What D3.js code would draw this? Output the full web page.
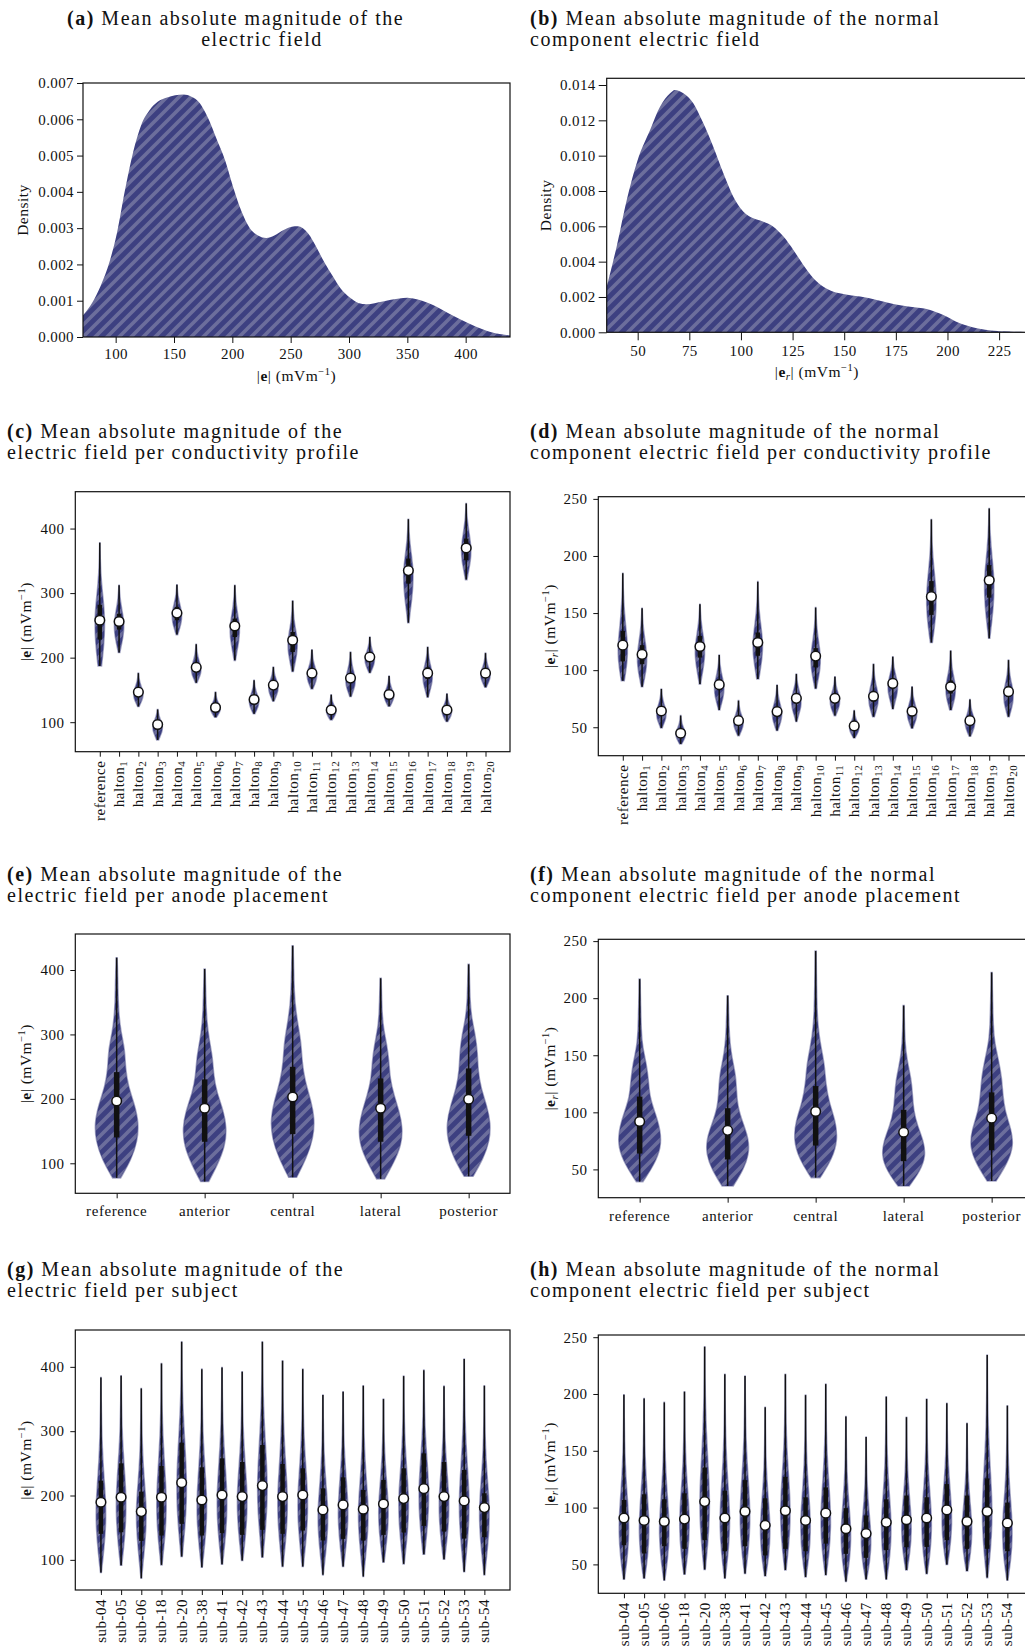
<!DOCTYPE html>
<html>
<head>
<meta charset="utf-8">
<script src="https://cdn.jsdelivr.net/npm/d3@7"></script>
<style>
body{margin:0;background:#fff;}
svg text{font-family:"Liberation Serif","Times New Roman",serif;fill:#111;}
</style>
</head>
<body>
<div id="chart"></div>
<script>
// ---------- data ----------
// (a) density of |e|
var eValues=[72,80,87,95,101,108,115,122,129,136,144,151,158,165,172,179,186,194,201,208,215,222,229,236,244,251,256,265,272,279,286,293,301,308,315,329,343,350,358,372,386,401,415,429,438];
var eDensity=[0.00060,0.00095,0.00140,0.00210,0.00285,0.00405,0.00510,0.00585,0.00625,0.00648,0.00660,0.00666,0.00668,0.00662,0.00645,0.00605,0.00550,0.00485,0.00410,0.00345,0.00300,0.00280,0.00273,0.00280,0.00295,0.00304,0.00305,0.00285,0.00248,0.00205,0.00168,0.00133,0.00108,0.00094,0.00090,0.00098,0.00106,0.00108,0.00104,0.00088,0.00064,0.00040,0.00021,0.00008,0.00004];
var eTicksX=[100,150,200,250,300,350,400];
var eTicksY=[0,0.001,0.002,0.003,0.004,0.005,0.006,0.007];

// (b) density of |e_r|
var erValues=[35,39.8,44.7,50,56,60.8,65.7,68,72.1,77,81.8,86.6,91.5,96.3,101.2,106,110.9,115.7,120.6,125.4,130.2,135.1,139.9,144.8,149.6,157.7,165.8,173.8,181.9,190,198,206,214.2,222.3,230.3,238.5];
var erDensity=[0.00258,0.00485,0.00749,0.00975,0.01145,0.01277,0.01353,0.01372,0.01353,0.01296,0.01183,0.0105,0.009,0.00768,0.00683,0.00645,0.00626,0.00598,0.00542,0.00466,0.00381,0.00306,0.00258,0.0023,0.00217,0.00202,0.00183,0.0016,0.00145,0.00132,0.00098,0.00051,0.00023,0.00009,0.00004,0.00002];
var erTicksX=[50,75,100,125,150,175,200,225];
var erTicksY=[0,0.002,0.004,0.006,0.008,0.010,0.012,0.014];

var eViolinTicks=[100,200,300,400];
var erViolinTicks=[50,100,150,200,250];

// (c) / (d) conductivity profiles
var profiles=['reference','halton1','halton2','halton3','halton4','halton5','halton6','halton7','halton8','halton9','halton10','halton11','halton12','halton13','halton14','halton15','halton16','halton17','halton18','halton19','halton20'];
var cMin=[187,208,124.4,72.6,235.7,161,107.8,195.8,113,132.6,178.7,151.7,103.6,139.8,176.6,124.8,254.2,138.8,101,320.9,154.3];
var cQ1=[228,243.5,141,91,258,179,118.5,232,130,152,208.7,170,114.5,162,195,138,314.7,167,114,350.9,171];
var cMed=[258,256,146.6,96.4,269,185,122.8,249,135.2,157.5,226.9,176,119,168.3,200.9,142.9,334.9,176,119,370,176];
var cQ3=[282,268,152,101,278.6,191,127,260.5,141,163,239.7,183,124,176,207,148,353.5,185,124,384.5,182];
var cMax=[378,312,176,119.7,313,220.6,146.6,312,164.8,185.4,288,212.3,142.4,208.6,232,171.4,414.5,216.4,144,438.8,207];
var cShape=[
[0.35,0.7,0.95,1.0,0.8,0.45,0.2,0.08,0.02],[0.15,0.5,0.85,1.0,0.9,0.6,0.3,0.12,0.03],[0.15,0.55,0.9,1.0,0.85,0.5,0.25,0.1,0.03],
[0.2,0.5,0.85,1.0,0.95,0.65,0.35,0.15,0.05],[0.15,0.55,0.9,1.0,0.85,0.55,0.25,0.1,0.03],[0.15,0.55,0.95,1.0,0.75,0.45,0.22,0.1,0.03],
[0.2,0.6,0.95,1.0,0.75,0.45,0.22,0.1,0.03],[0.12,0.45,0.8,1.0,0.9,0.55,0.28,0.12,0.03],[0.15,0.55,0.9,1.0,0.85,0.5,0.25,0.1,0.03],
[0.12,0.5,0.85,1.0,0.92,0.6,0.3,0.12,0.03],[0.15,0.5,0.85,1.0,0.85,0.5,0.25,0.1,0.03],[0.18,0.6,0.95,1.0,0.78,0.45,0.22,0.1,0.03],
[0.2,0.6,0.95,1.0,0.78,0.45,0.22,0.1,0.03],[0.15,0.55,0.92,1.0,0.8,0.48,0.24,0.1,0.03],[0.15,0.55,0.9,1.0,0.85,0.5,0.25,0.1,0.03],
[0.2,0.6,0.95,1.0,0.75,0.45,0.22,0.1,0.03],[0.12,0.4,0.75,0.95,1.0,0.7,0.35,0.12,0.03],[0.12,0.45,0.8,1.0,0.92,0.6,0.3,0.12,0.03],
[0.18,0.58,0.92,1.0,0.82,0.5,0.25,0.1,0.03],[0.15,0.5,0.88,1.0,0.85,0.55,0.28,0.1,0.03],[0.15,0.55,0.92,1.0,0.8,0.48,0.24,0.1,0.03]];

var dMin=[90.8,85.5,49.4,35.4,87.8,65.1,42.7,92.2,47.1,55,84,60.2,40.7,59.3,66,49.1,124.2,65.1,42.1,128,59.3];
var dQ1=[107.6,105.3,60.5,42,111,82.5,52.5,112.6,60,71,102.4,71.5,48.5,72.5,84,60.5,148.4,79.5,52.5,163.5,76.5];
var dMed=[121.9,113.8,64.3,44.8,120.7,87.3,55.8,124.2,63.7,75.3,112.3,75.3,51.2,77.1,88.4,64,164.4,85.5,55.8,178.7,81.2];
var dQ3=[134.4,121.9,68,47.5,130,92,59,133,67.5,79.5,119.3,79,53.5,81.5,93,67.5,178,91,59,192,86];
var dMax=[184.8,154.2,83.5,60.2,157.7,113.2,73.3,177.5,87,96.6,154.8,94.2,64.6,105.3,111.7,85.5,232,117,74.2,241.6,108.8];
var dShape=[
[0.3,0.75,1.0,0.9,0.6,0.35,0.18,0.07,0.02],[0.15,0.55,0.9,1.0,0.8,0.5,0.25,0.1,0.03],[0.15,0.55,0.9,1.0,0.85,0.5,0.25,0.1,0.03],
[0.2,0.6,0.95,1.0,0.75,0.45,0.22,0.1,0.03],[0.12,0.45,0.8,1.0,0.92,0.6,0.3,0.12,0.03],[0.12,0.48,0.85,1.0,0.9,0.55,0.28,0.1,0.03],
[0.15,0.55,0.9,1.0,0.85,0.5,0.25,0.1,0.03],[0.2,0.6,0.95,1.0,0.75,0.42,0.2,0.08,0.02],[0.15,0.55,0.9,1.0,0.82,0.5,0.25,0.1,0.03],
[0.1,0.42,0.8,1.0,0.95,0.65,0.32,0.12,0.03],[0.15,0.55,0.92,1.0,0.8,0.48,0.24,0.1,0.03],[0.15,0.55,0.9,1.0,0.85,0.5,0.25,0.1,0.03],
[0.15,0.55,0.9,1.0,0.85,0.5,0.25,0.1,0.03],[0.18,0.6,0.95,1.0,0.78,0.45,0.22,0.1,0.03],[0.1,0.42,0.8,1.0,0.95,0.65,0.32,0.12,0.03],
[0.15,0.55,0.92,1.0,0.8,0.48,0.24,0.1,0.03],[0.2,0.62,0.95,1.0,0.78,0.45,0.2,0.08,0.02],[0.18,0.6,0.95,1.0,0.78,0.45,0.22,0.1,0.03],
[0.15,0.55,0.9,1.0,0.85,0.5,0.25,0.1,0.03],[0.12,0.5,0.85,1.0,0.9,0.55,0.28,0.1,0.03],[0.15,0.55,0.9,1.0,0.85,0.5,0.25,0.1,0.03]];

// (e) / (f) anode placements
var placements=['reference','anterior','central','lateral','posterior'];
var ePMin=[77.4,71.7,78.4,75.8,79.9];
var ePQ1=[140.1,133.4,145.3,133.4,142.7];
var ePMed=[196.7,185.4,202.9,185.4,199.3];
var ePQ3=[241.5,230.2,249.7,231.7,247.2];
var ePMax=[419,401.5,437.6,387.1,408.7];
var ePShape=[
[0.18,0.66,0.94,1.0,0.81,0.52,0.39,0.37,0.18,0.09,0.06,0.045,0.02],
[0.18,0.6,0.92,1.0,0.85,0.55,0.4,0.36,0.2,0.1,0.06,0.04,0.02],
[0.18,0.62,0.93,1.0,0.82,0.55,0.42,0.38,0.22,0.1,0.06,0.04,0.02],
[0.18,0.6,0.93,1.0,0.85,0.6,0.42,0.38,0.28,0.12,0.06,0.04,0.02],
[0.2,0.66,0.95,1.0,0.82,0.55,0.42,0.4,0.3,0.12,0.06,0.04,0.02]];
var fPMin=[39.3,35.5,42.8,35.5,39.9];
var fPQ1=[63.9,58.7,70.9,57.2,66.8];
var fPMed=[92,84.2,100.7,82.5,94.9];
var fPQ3=[113.8,103.6,123,102.2,117.5];
var fPMax=[216.7,202.2,241.3,193.5,222.5];
var fPShape=[
[0.15,0.65,0.97,0.95,0.72,0.45,0.4,0.3,0.12,0.07,0.05,0.03,0.02],
[0.25,0.7,0.97,0.95,0.68,0.45,0.4,0.36,0.2,0.1,0.06,0.04,0.02],
[0.2,0.75,1.0,0.9,0.6,0.45,0.4,0.22,0.1,0.06,0.04,0.03,0.02],
[0.25,0.75,1.0,0.9,0.62,0.45,0.4,0.35,0.2,0.09,0.05,0.03,0.02],
[0.2,0.7,1.0,0.88,0.6,0.5,0.45,0.3,0.12,0.07,0.05,0.03,0.02]];

// (g) / (h) subjects
var subjects=['sub-04','sub-05','sub-06','sub-18','sub-20','sub-38','sub-41','sub-42','sub-43','sub-44','sub-45','sub-46','sub-47','sub-48','sub-49','sub-50','sub-51','sub-52','sub-53','sub-54'];
var gMin=[80.3,91.7,71.5,92.2,105.2,88.6,93.3,99,104.1,89.7,89.7,76.7,89.7,74.1,96.4,93.8,108.8,101,81.4,76.7];
var gQ1=[140.4,142.9,129.5,137.8,155.9,137.8,141.4,138.8,146.6,140.4,145.5,130,132.6,130,138.8,142.4,152.8,144,133.1,135.2];
var gMed=[189.5,197.3,175,197.3,220,193.1,200.9,198.3,215.4,198.3,200.9,177.6,185.4,178.6,186.9,195.2,210.7,198.3,191.6,181.2];
var gQ3=[223.1,250,206,245.9,282.1,243.8,257.8,252.1,278.5,249,242.3,211.2,228.3,208.6,224.2,242.3,265.5,252.1,239.7,203.5];
var gMax=[383.5,386,366.4,405.2,438.9,396.4,399,392.3,438.9,409.4,396.4,356.1,361.3,370.6,349.9,385.6,394.9,370,412,370.6];
var gShape=[
[0.08,0.6,0.98,0.92,0.55,0.28,0.13,0.05,0.02],[0.12,0.62,0.95,0.95,0.65,0.33,0.15,0.06,0.02],[0.06,0.5,0.92,1.0,0.62,0.3,0.14,0.06,0.02],
[0.1,0.62,0.97,0.9,0.58,0.3,0.13,0.05,0.02],[0.12,0.6,0.95,0.95,0.68,0.38,0.16,0.06,0.02],[0.08,0.6,0.98,0.92,0.58,0.3,0.13,0.05,0.02],
[0.1,0.62,0.97,0.95,0.62,0.32,0.14,0.05,0.02],[0.12,0.62,0.97,0.95,0.6,0.3,0.13,0.05,0.02],[0.12,0.58,0.95,0.95,0.65,0.35,0.15,0.06,0.02],
[0.1,0.6,0.97,0.93,0.58,0.3,0.13,0.05,0.02],[0.1,0.6,0.97,0.95,0.6,0.3,0.13,0.05,0.02],[0.06,0.55,0.95,0.97,0.6,0.3,0.13,0.05,0.02],
[0.1,0.6,0.97,0.93,0.6,0.3,0.13,0.05,0.02],[0.06,0.52,0.94,0.98,0.6,0.3,0.13,0.05,0.02],[0.12,0.62,0.97,0.92,0.58,0.3,0.13,0.05,0.02],
[0.1,0.6,0.97,0.95,0.6,0.3,0.13,0.05,0.02],[0.15,0.62,0.95,0.95,0.65,0.33,0.15,0.06,0.02],[0.12,0.62,0.97,0.93,0.6,0.3,0.13,0.05,0.02],
[0.08,0.58,0.97,0.95,0.6,0.3,0.13,0.05,0.02],[0.06,0.55,0.95,0.97,0.6,0.28,0.12,0.05,0.02]];
var hMin=[36.9,37.8,36,41.3,45.6,37.8,42.1,39.8,45.1,38.9,40.7,34.9,36.9,36.9,45.1,41.8,50,44.2,38.4,36];
var hQ1=[66.9,59.6,66,63.7,71.3,61.6,66,57.9,63.7,61.6,68.3,59.3,55.8,62.5,65.1,65.4,71.3,63.7,63.7,61.6];
var hMed=[90.8,88.7,87.8,89.9,105.3,90.8,96.6,84.4,97.2,88.7,95.1,81.4,77.1,87,89.3,90.8,98,87.8,96.6,86.4];
var hQ3=[106.8,111.7,107.3,112.6,135.3,114.9,124.2,108.2,127.1,109.1,117.8,99.5,93.1,107.3,110.6,109.1,120.7,110.6,125.7,104.4];
var hMax=[199.3,196.1,192.6,202,241.6,217.4,215.9,188.3,217.4,199,208.7,180.1,162.1,197.6,179.6,195.6,191.8,174.3,234.3,189.7];
var hShape=[
[0.1,0.7,1.0,0.85,0.5,0.25,0.12,0.05,0.02],[0.12,0.72,1.0,0.85,0.52,0.26,0.12,0.05,0.02],[0.08,0.68,1.0,0.86,0.52,0.26,0.12,0.05,0.02],
[0.12,0.7,1.0,0.85,0.5,0.25,0.12,0.05,0.02],[0.12,0.65,0.98,0.9,0.58,0.3,0.14,0.05,0.02],[0.08,0.66,1.0,0.85,0.5,0.25,0.11,0.04,0.02],
[0.1,0.68,1.0,0.88,0.55,0.28,0.12,0.05,0.02],[0.12,0.72,1.0,0.82,0.48,0.24,0.11,0.05,0.02],[0.12,0.66,0.98,0.88,0.56,0.28,0.12,0.05,0.02],
[0.1,0.7,1.0,0.85,0.5,0.25,0.12,0.05,0.02],[0.1,0.68,1.0,0.87,0.54,0.27,0.12,0.05,0.02],[0.08,0.7,1.0,0.84,0.5,0.25,0.12,0.05,0.02],
[0.1,0.72,1.0,0.84,0.5,0.26,0.12,0.05,0.02],[0.08,0.7,1.0,0.85,0.5,0.25,0.12,0.05,0.02],[0.14,0.72,1.0,0.85,0.52,0.26,0.12,0.05,0.02],
[0.12,0.7,1.0,0.86,0.52,0.26,0.12,0.05,0.02],[0.15,0.72,1.0,0.86,0.54,0.27,0.12,0.05,0.02],[0.14,0.72,1.0,0.84,0.5,0.25,0.12,0.05,0.02],
[0.1,0.66,0.98,0.88,0.56,0.28,0.12,0.05,0.02],[0.08,0.7,1.0,0.85,0.5,0.25,0.12,0.05,0.02]];

// ---------- drawing ----------
var W=1025,H=1652;
var TITLE_FS=20,TICK_FS=15,LABEL_FS=15.5;
var ink='#111';

var svg=d3.select('#chart').append('svg').attr('width',W).attr('height',H);
var defs=svg.append('defs');
// "//" hatch: dark navy with lighter diagonal stripes
var pat=defs.append('pattern').attr('id','hatch').attr('patternUnits','userSpaceOnUse')
    .attr('width',12).attr('height',12);
pat.append('rect').attr('width',12).attr('height',12).attr('fill','#3d4081');
pat.append('path').attr('d','M-1.5,1.5 L1.5,-1.5 M0,12 L12,0 M10.5,13.5 L13.5,10.5')
    .attr('stroke','#6c6e9c').attr('stroke-width',3.6);

// letter spacing of the captions, fitted to the width of one caption line
var probe=svg.append('text').attr('font-size',TITLE_FS).text('(c) Mean absolute magnitude of the');
var titleLs=(336-probe.node().getComputedTextLength())/34;
probe.remove();

function title(x,y,tag,l1,l2,x2,anchor2){
    var t=svg.append('text').attr('x',x).attr('y',y).attr('font-size',TITLE_FS)
        .style('letter-spacing',titleLs+'px');
    t.append('tspan').attr('font-weight','bold').text('('+tag+')');
    t.append('tspan').text(' '+l1);
    svg.append('text').attr('x',x2).attr('y',y+21).attr('font-size',TITLE_FS)
        .attr('text-anchor',anchor2).style('letter-spacing',titleLs+'px').text(l2);
}

function unitLabel(sel,normal){
    sel.append('tspan').text('|');
    sel.append('tspan').attr('font-weight','bold').text('e');
    if(normal){
        sel.append('tspan').attr('font-style','italic').attr('font-size',11).attr('dy',3).text('r');
        sel.append('tspan').attr('dy',-3).text('|');
    }else{
        sel.append('tspan').text('|');
    }
    sel.append('tspan').text(' (mVm');
    sel.append('tspan').attr('font-size',10.5).attr('dy',-6).text('\u22121');
    sel.append('tspan').attr('dy',6).text(')');
}

function styleAxis(g){
    g.attr('font-family','Liberation Serif, serif').attr('font-size',TICK_FS);
    g.select('.domain').remove();
    g.selectAll('.tick line').attr('stroke',ink).attr('stroke-width',1);
    g.selectAll('.tick text').attr('fill',ink).style('letter-spacing','0.4px');
}

function spines(box){
    svg.append('rect').attr('x',box.left).attr('y',box.top)
        .attr('width',box.right-box.left).attr('height',box.bottom-box.top)
        .attr('fill','none').attr('stroke',ink).attr('stroke-width',1.2);
}

function densityPanel(box,xs,ds,xTicks,yTicks,yMax,tickLen,normal,ylabX,xlabY){
    var x=d3.scaleLinear().domain(d3.extent(xs)).range([box.left,box.right]);
    var y=d3.scaleLinear().domain([0,yMax]).range([box.bottom,box.top]);
    var pts=xs.map(function(v,i){return [v,ds[i]];});
    var area=d3.area().curve(d3.curveMonotoneX)
        .x(function(d){return x(d[0]);})
        .y0(y(0))
        .y1(function(d){return y(d[1]);});
    svg.append('path').datum(pts).attr('d',area).attr('fill','url(#hatch)');

    var gx=svg.append('g').attr('transform','translate(0,'+box.bottom+')')
        .call(d3.axisBottom(x).tickValues(xTicks).tickSize(tickLen).tickPadding(5).tickFormat(d3.format('d')));
    styleAxis(gx);
    var gy=svg.append('g').attr('transform','translate('+box.left+',0)')
        .call(d3.axisLeft(y).tickValues(yTicks).tickSize(tickLen).tickPadding(3).tickFormat(d3.format('.3f')));
    styleAxis(gy);
    spines(box);

    svg.append('text').attr('transform','translate('+ylabX+','+((box.top+box.bottom)/2)+') rotate(-90)')
        .attr('text-anchor','middle').attr('font-size',LABEL_FS).style('letter-spacing','0.5px').text('Density');
    var xl=svg.append('text').attr('x',(box.left+Math.min(box.right,W+2))/2).attr('y',xlabY)
        .attr('text-anchor','middle').attr('font-size',LABEL_FS).style('letter-spacing','0.5px');
    unitLabel(xl,normal);
}

function violinPanel(box,cats,mins,q1s,meds,q3s,maxs,shapes,yTicks,pad,boxW,normal,ylabX,rotated){
    var lo=d3.min(mins),hi=d3.max(maxs),m=(hi-lo)*0.05;
    var y=d3.scaleLinear().domain([lo-m,hi+m]).range([box.bottom,box.top]);
    var x=d3.scalePoint().domain(cats).range([box.left,box.right]).padding(pad);
    var hw=x.step()*0.25;
    var area=d3.area().curve(d3.curveBasis)
        .y(function(d){return y(d.v);})
        .x0(function(d){return d.cx-hw*d.w;})
        .x1(function(d){return d.cx+hw*d.w;});
    var g=svg.append('g');
    cats.forEach(function(c,i){
        var cx=x(c),s=shapes[i];
        var pts=s.map(function(w,k){
            return {cx:cx,v:mins[i]+(maxs[i]-mins[i])*k/(s.length-1),w:w};
        });
        g.append('path').datum(pts).attr('d',area).attr('fill','url(#hatch)')
            .attr('stroke','rgba(61,64,129,0.45)').attr('stroke-width',1.6);
    });
    cats.forEach(function(c,i){
        var cx=x(c);
        g.append('line').attr('x1',cx).attr('x2',cx).attr('y1',y(mins[i])).attr('y2',y(maxs[i]))
            .attr('stroke',ink).attr('stroke-width',1.5);
        g.append('line').attr('x1',cx).attr('x2',cx).attr('y1',y(q1s[i])).attr('y2',y(q3s[i]))
            .attr('stroke',ink).attr('stroke-width',boxW);
        g.append('circle').attr('cx',cx).attr('cy',y(meds[i])).attr('r',4.8)
            .attr('fill','#fff').attr('stroke',ink).attr('stroke-width',1.5);
    });

    var gx=svg.append('g').attr('transform','translate(0,'+box.bottom+')')
        .call(d3.axisBottom(x).tickSize(5).tickFormat(''));
    styleAxis(gx);
    gx.selectAll('.tick text').remove();
    var gy=svg.append('g').attr('transform','translate('+box.left+',0)')
        .call(d3.axisLeft(y).tickValues(yTicks).tickSize(5).tickPadding(6).tickFormat(d3.format('d')));
    styleAxis(gy);
    spines(box);

    cats.forEach(function(c){
        var t;
        if(rotated){
            t=svg.append('text').attr('transform','translate('+(x(c)+5)+','+(box.bottom+9)+') rotate(-90)')
                .attr('text-anchor','end').attr('font-size',TICK_FS).style('letter-spacing','0.5px');
            var mm=/^(halton)(\d+)$/.exec(c);
            if(mm){
                t.append('tspan').text(mm[1]);
                t.append('tspan').attr('font-size',11).attr('dy',3).text(mm[2]);
            }else{
                t.text(c);
            }
        }else{
            svg.append('text').attr('x',x(c)).attr('y',box.bottom+23).attr('text-anchor','middle')
                .attr('font-size',TICK_FS).style('letter-spacing','0.6px').text(c);
        }
    });

    var yl=svg.append('text').attr('transform','translate('+ylabX+','+((box.top+box.bottom)/2)+') rotate(-90)')
        .attr('text-anchor','middle').attr('font-size',LABEL_FS).style('letter-spacing','0.5px');
    unitLabel(yl,normal);
}

// ---------- panels ----------
title(67,25,'a','Mean absolute magnitude of the','electric field',262,'middle');
title(530,25,'b','Mean absolute magnitude of the normal','component electric field',530,'start');
densityPanel({left:83,right:510,top:83,bottom:337},eValues,eDensity,eTicksX,eTicksY,0.007,6,false,28,381);
densityPanel({left:606.7,right:1027,top:78.3,bottom:332.3},erValues,erDensity,erTicksX,erTicksY,0.01438,8,true,551,377);

title(7,438,'c','Mean absolute magnitude of the','electric field per conductivity profile',7,'start');
title(530,438,'d','Mean absolute magnitude of the normal','component electric field per conductivity profile',530,'start');
violinPanel({left:75.3,right:510,top:491.7,bottom:751.7},profiles,cMin,cQ1,cMed,cQ3,cMax,cShape,eViolinTicks,1.27,4.5,false,31,true);
violinPanel({left:598.3,right:1033,top:496.7,bottom:755.7},profiles,dMin,dQ1,dMed,dQ3,dMax,dShape,erViolinTicks,1.27,4.5,true,555,true);

title(7,881,'e','Mean absolute magnitude of the','electric field per anode placement',7,'start');
title(530,881,'f','Mean absolute magnitude of the normal','component electric field per anode placement',530,'start');
violinPanel({left:75.3,right:510,top:934,bottom:1193.3},placements,ePMin,ePQ1,ePMed,ePQ3,ePMax,ePShape,eViolinTicks,0.47,5.5,false,31,false);
violinPanel({left:598.3,right:1033,top:939.3,bottom:1197.7},placements,fPMin,fPQ1,fPMed,fPQ3,fPMax,fPShape,erViolinTicks,0.47,5.5,true,555,false);

title(7,1276,'g','Mean absolute magnitude of the','electric field per subject',7,'start');
title(530,1276,'h','Mean absolute magnitude of the normal','component electric field per subject',530,'start');
violinPanel({left:75.3,right:510,top:1330,bottom:1590},subjects,gMin,gQ1,gMed,gQ3,gMax,gShape,eViolinTicks,1.27,4.5,false,31,true);
violinPanel({left:598.3,right:1033,top:1335,bottom:1593.3},subjects,hMin,hQ1,hMed,hQ3,hMax,hShape,erViolinTicks,1.27,4.5,true,555,true);
</script>
</body>
</html>
